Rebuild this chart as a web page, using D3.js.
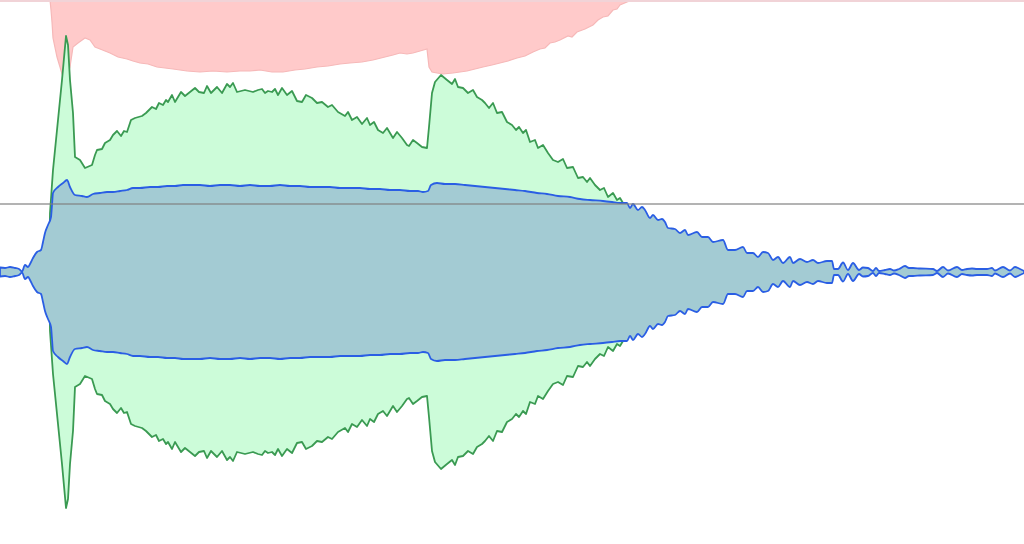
<!DOCTYPE html>
<html>
<head>
<meta charset="utf-8">
<script src="https://cdn.jsdelivr.net/npm/d3@7"></script>
<style>
  html, body { margin: 0; padding: 0; background: #fff; }
  svg { display: block; }
</style>
</head>
<body>
<div id="chart"></div>
<script>
// envelope data: [time, level], level is half-height around the centre line
const redLevel = [
  [50, 272], [51, 262], [52, 250], [53, 234], [57, 215], [60, 205], [63, 195], [66, 190],
  [70, 205], [73, 225], [78, 229], [85, 234], [90, 232], [95, 225], [100, 223], [105, 221],
  [110, 219], [118, 215], [127, 213], [133, 211], [140, 209], [148, 208], [157, 205],
  [165, 204], [173, 203], [180, 202], [187, 201], [200, 200], [213, 201], [227, 200],
  [240, 201], [250, 201], [260, 202], [272, 200], [283, 200], [295, 202], [305, 203],
  [317, 205], [328, 206], [340, 208], [350, 209], [362, 210], [373, 212], [385, 215],
  [393, 217], [400, 219], [407, 218], [413, 219], [420, 221], [427, 223], [429, 205],
  [432, 200], [437, 199], [443, 198], [453, 199], [460, 200], [467, 201], [475, 203],
  [483, 205], [492, 207], [500, 209], [508, 211], [517, 214], [525, 216], [533, 220],
  [540, 223], [545, 224], [550, 229], [555, 230], [560, 232], [568, 236], [572, 235],
  [577, 240], [585, 243], [593, 247], [598, 252], [603, 255], [608, 256], [613, 262],
  [617, 263], [620, 267], [627, 270], [633, 272]
];

const greenLevel = [
  [49, 0], [50, 59], [53, 102], [58, 152], [62, 192], [66, 236], [68, 227], [70, 192],
  [73, 159], [75, 115], [80, 112], [85, 104], [92, 107], [95, 117], [97, 122], [102, 123],
  [105, 129], [110, 132], [113, 137], [117, 141], [121, 136], [124, 141], [127, 140],
  [131, 152], [135, 154], [142, 156], [146, 159], [152, 165], [156, 163], [159, 169],
  [163, 167], [166, 172], [168, 170], [172, 177], [175, 170], [181, 180], [185, 176],
  [195, 184], [199, 180], [204, 179], [207, 186], [211, 179], [217, 185], [222, 179],
  [227, 188], [230, 185], [233, 189], [237, 180], [245, 182], [253, 180], [258, 182],
  [262, 183], [265, 179], [268, 181], [272, 180], [275, 183], [278, 177], [282, 184],
  [287, 177], [292, 181], [297, 171], [302, 170], [306, 177], [312, 174], [317, 169],
  [322, 170], [328, 165], [332, 167], [338, 160], [345, 156], [348, 160], [352, 152],
  [357, 155], [362, 148], [367, 154], [370, 147], [374, 150], [378, 142], [383, 139],
  [387, 144], [393, 134], [397, 140], [402, 134], [407, 127], [409, 126], [413, 132],
  [417, 129], [422, 125], [427, 124], [429, 145], [432, 179], [435, 190], [441, 197],
  [447, 192], [452, 188], [455, 193], [458, 185], [463, 184], [468, 179], [473, 182],
  [477, 175], [482, 172], [485, 169], [489, 164], [493, 169], [497, 159], [502, 160],
  [507, 150], [512, 147], [516, 142], [519, 145], [523, 139], [526, 142], [530, 130],
  [535, 132], [538, 124], [543, 127], [548, 119], [553, 112], [558, 110], [563, 113],
  [567, 104], [573, 105], [578, 94], [583, 95], [587, 90], [590, 94], [595, 87],
  [600, 82], [604, 84], [608, 75], [613, 79], [617, 72], [620, 74], [623, 69],
  [627, 65], [632, 56], [634, 0]
];

const blueLevel = [
  [0, 4.5], [5, 4], [10, 5], [15, 4], [19, 3], [22, 0.5], [25, 7], [28, 5], [30, 8],
  [33, 14], [37, 20], [41, 22], [43, 30], [45, 39], [48, 47], [51, 55], [52, 67],
  [53, 79], [58, 85], [63, 89], [67, 92], [70, 85], [75, 77], [82, 76], [87, 75],
  [93, 78], [100, 79], [107, 80], [113, 80], [120, 81], [127, 82], [133, 84], [140, 84],
  [150, 85], [158, 85], [167, 86], [175, 86], [183, 87], [192, 87], [200, 87], [210, 86],
  [220, 87], [230, 87], [240, 86], [250, 87], [260, 86], [270, 86], [280, 87], [290, 86],
  [300, 86], [310, 85], [320, 85], [330, 85], [340, 84], [350, 84], [360, 84], [370, 83],
  [380, 83], [390, 82], [400, 82], [410, 81], [418, 81], [423, 80], [428, 81], [431, 87],
  [437, 89], [445, 88], [455, 88], [465, 87], [475, 86], [485, 85], [495, 84], [505, 83],
  [515, 82], [525, 81], [537, 79], [547, 78], [558, 76], [570, 75], [580, 73], [590, 72],
  [603, 71], [612, 70], [620, 69], [627, 69], [630, 64], [633, 68], [638, 62], [642, 65],
  [645, 62], [650, 54], [653, 57], [658, 52], [662, 53], [665, 50], [668, 44], [675, 43],
  [680, 39], [685, 42], [688, 37], [697, 40], [702, 35], [708, 35], [713, 30], [723, 32],
  [728, 22], [735, 22], [743, 25], [747, 19], [753, 19], [758, 15], [763, 20], [768, 19],
  [773, 12], [778, 15], [783, 9], [790, 15], [793, 9], [800, 13], [807, 10], [813, 12],
  [818, 9], [827, 11], [832, 11], [834, 3], [838, 3], [843, 9.5], [848, 2], [853, 9],
  [859, 2], [863, 4.5], [868, 4], [873, 1], [876, 4], [879, 1], [885, 2], [890, 3],
  [894, 1.5], [899, 3], [905, 6], [909, 4], [913, 4], [920, 3.5], [933, 3], [937, 1],
  [943, 5], [948, 1.5], [957, 5], [962, 2], [967, 3], [972, 3.5], [977, 3], [987, 3],
  [992, 4], [995, 1.5], [1003, 5], [1010, 1.5], [1015, 5], [1020, 3], [1024, 1]
];

const thresholdLevel = 68;

const width = 1024;
const height = 544;

const svg = d3
  .select('#chart')
  .append('svg')
  .attr('width', width)
  .attr('height', height);

const x = d3.scaleLinear().domain([0, 1024]).range([0, width]);
const y = d3.scaleLinear().domain([-272, 272]).range([height, 0]);

const mirror = d3
  .area()
  .x((d) => x(d[0]))
  .y0((d) => y(-d[1]))
  .y1((d) => y(d[1]));

const fromTop = d3
  .area()
  .x((d) => x(d[0]))
  .y0(y(272))
  .y1((d) => y(d[1]));

svg
  .append('path')
  .datum(redLevel)
  .attr('d', fromTop)
  .attr('fill', '#ffcaca')
  .attr('stroke', '#f6b8b8')
  .attr('stroke-width', 1.2);

svg
  .append('path')
  .datum(greenLevel)
  .attr('d', mirror)
  .attr('fill', '#ccfcd9')
  .attr('stroke', '#3a9a52')
  .attr('stroke-width', 1.8)
  .attr('stroke-linejoin', 'round');

svg
  .append('path')
  .datum(blueLevel)
  .attr('d', mirror.curve(d3.curveMonotoneX))
  .attr('fill', '#a3cbd3')
  .attr('stroke', '#2a5ee4')
  .attr('stroke-width', 1.8)
  .attr('stroke-linejoin', 'round');

// threshold line
svg
  .append('line')
  .attr('x1', 0)
  .attr('x2', width)
  .attr('y1', y(thresholdLevel))
  .attr('y2', y(thresholdLevel))
  .attr('stroke', '#808080')
  .attr('stroke-opacity', 0.6)
  .attr('stroke-width', 1.8);

// top border
svg
  .append('line')
  .attr('x1', 0)
  .attr('x2', width)
  .attr('y1', 1)
  .attr('y2', 1)
  .attr('stroke', '#f1d3d7')
  .attr('stroke-width', 2);
</script>
</body>
</html>
